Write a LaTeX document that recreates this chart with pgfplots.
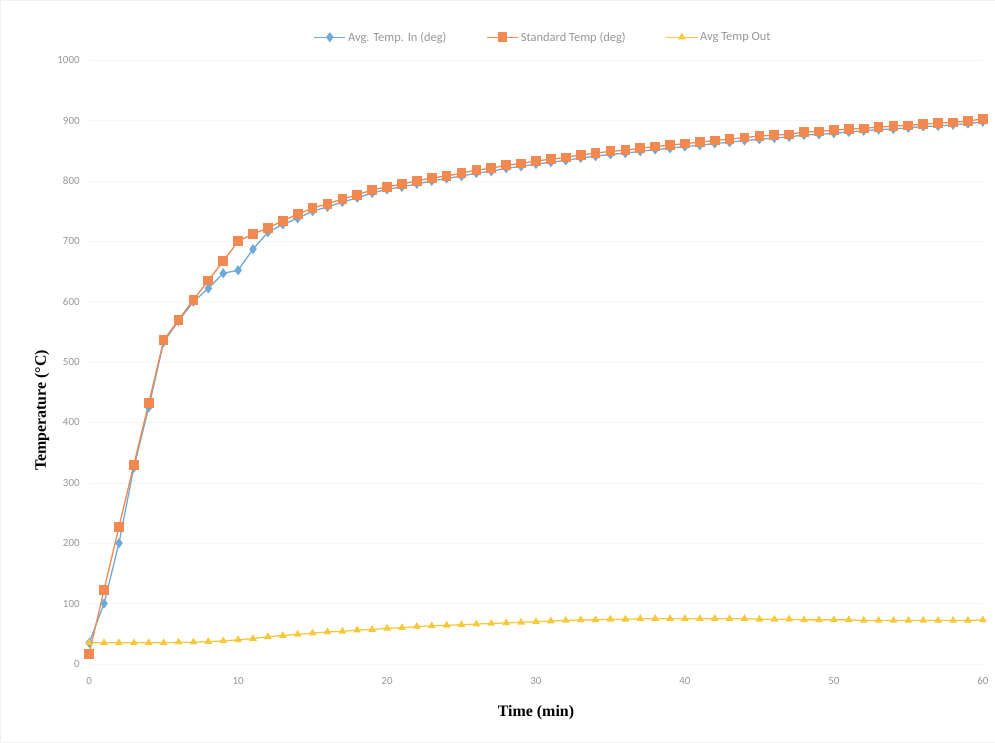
\documentclass[border=0pt]{standalone}
\usepackage{fontspec}
\setmainfont{Liberation Serif}
\newfontfamily\calibri{Carlito}
\usepackage{pgfplots}
\pgfplotsset{compat=1.18}
\definecolor{cblue}{RGB}{110,170,215}
\definecolor{corange}{RGB}{241,137,80}
\definecolor{cyellow}{RGB}{248,200,60}
\definecolor{ctick}{RGB}{150,150,150}
\begin{document}
\begin{tikzpicture}
\path[use as bounding box, draw=gray!12] (0,0) rectangle (995bp,742bp);
\begin{axis}[
  at={(89bp,78bp)}, anchor=south west,
  scale only axis, width=894bp, height=604bp,
  xmin=0, xmax=60, ymin=0, ymax=1000,
  xtick={0,10,...,60}, ytick={0,100,...,1000},
  axis line style={draw=none},
  tick style={draw=none},
  ymajorgrids, grid style={gray!8, line width=0.6bp},
  /pgf/number format/assume math mode=true,
  /pgf/number format/1000 sep={},
  tick label style={font=\calibri\fontsize{11}{13}\selectfont, text=ctick},
  yticklabel style={xshift=-6bp},
  xticklabel style={yshift=-10bp},
  xlabel={\textbf{Time (min)}},
  ylabel={\textbf{Temperature (°C)}},
  label style={font=\fontsize{16}{18}\selectfont},
  xlabel style={at={(axis description cs:0.5,-0.081)}, anchor=center},
  ylabel style={at={(axis description cs:-0.0526,0.42)}, anchor=center},
  legend columns=3,
  legend style={draw=none, fill=none, at={(axis description cs:0.508,1.038)}, anchor=center,
    font=\calibri\fontsize{12.5}{14}\selectfont, text=ctick,
    /tikz/every even column/.append style={column sep=38bp}},
  legend image code/.code={\draw[mark repeat=2,mark phase=2] plot coordinates {(0cm,0cm)(0.55cm,0cm)(1.1cm,0cm)};},
]
\addplot[color=cblue, line width=1.3bp, mark=diamond*, mark size=4bp, mark options={fill=cblue}] coordinates {
(0,35)(1,100)(2,200)(3,325)(4,425)(5,533)(6,568)(7,600)(8,622)(9,647)
(10,652)(11,687)(12,715)(13,728)(14,738)(15,750)(16,757)(17,765)(18,772)(19,780)
(20,786)(21,790)(22,795)(23,800)(24,804)(25,808)(26,813)(27,816)(28,821)(29,824)
(30,828)(31,831)(32,834)(33,838)(34,841)(35,844)(36,846)(37,849)(38,852)(39,854)
(40,857)(41,859)(42,862)(43,864)(44,867)(45,869)(46,871)(47,873)(48,876)(49,877)
(50,879)(51,881)(52,883)(53,885)(54,886)(55,888)(56,890)(57,891)(58,893)(59,895)(60,898)};
\addlegendentry{Avg. Temp. In (deg)}
\addplot[color=corange, line width=1.3bp, mark=square*, mark size=4.2bp, mark options={fill=corange}] coordinates {
(0,17)(1,123)(2,227)(3,330)(4,432)(5,536)(6,570)(7,603)(8,635)(9,667)
(10,700)(11,712)(12,722)(13,734)(14,745)(15,755)(16,762)(17,770)(18,777)(19,785)
(20,790)(21,795)(22,800)(23,805)(24,808)(25,813)(26,818)(27,821)(28,826)(29,829)
(30,833)(31,836)(32,839)(33,843)(34,846)(35,849)(36,851)(37,854)(38,857)(39,859)
(40,862)(41,864)(42,867)(43,869)(44,872)(45,874)(46,876)(47,877)(48,881)(49,882)
(50,884)(51,886)(52,887)(53,889)(54,891)(55,892)(56,894)(57,896)(58,897)(59,899)(60,903)};
\addlegendentry{Standard Temp (deg)}
\addplot[color=cyellow, line width=1.3bp, mark=triangle*, mark size=3.2bp, mark options={fill=cyellow}] coordinates {
(0,35)(1,35)(2,35)(3,35)(4,35)(5,35)(6,36)(7,36)(8,37)(9,38)
(10,40)(11,42)(12,45)(13,47)(14,49)(15,51)(16,53)(17,54)(18,56)(19,57)
(20,59)(21,60)(22,62)(23,63)(24,64)(25,65)(26,66)(27,67)(28,68)(29,69)
(30,70)(31,71)(32,72)(33,73)(34,73)(35,74)(36,74)(37,75)(38,75)(39,75)
(40,75)(41,75)(42,75)(43,75)(44,75)(45,74)(46,74)(47,74)(48,73)(49,73)
(50,73)(51,73)(52,72)(53,72)(54,72)(55,72)(56,72)(57,72)(58,72)(59,72)(60,73)};
\addlegendentry{Avg Temp Out}
\end{axis}
\end{tikzpicture}
\end{document}
